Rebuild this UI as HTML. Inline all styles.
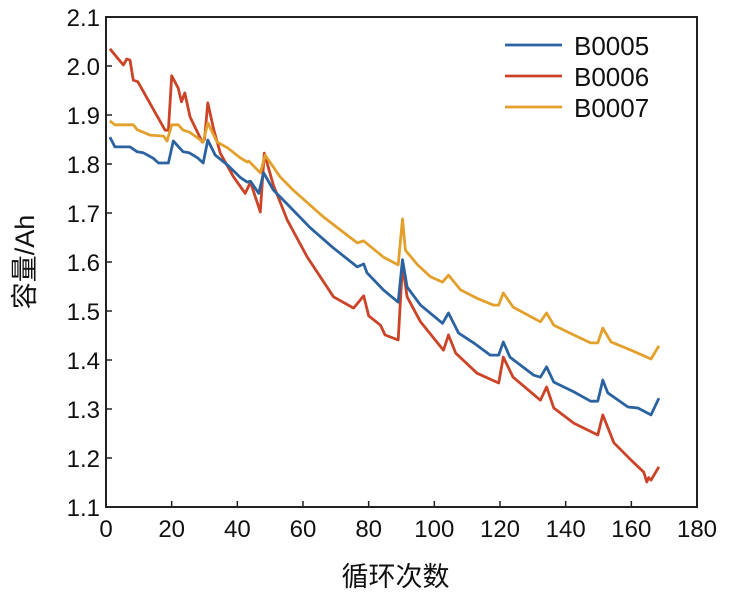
<!DOCTYPE html>
<html><head><meta charset="utf-8">
<style>
html,body{margin:0;padding:0;background:#fff;}
svg{display:block;font-family:"Liberation Sans","Noto Sans CJK SC",sans-serif;}
</style></head>
<body>
<svg id="chart" width="729" height="597"></svg>
<script>
const xTicks=[0,20,40,60,80,100,120,140,160,180];
const yTicks=[1.1,1.2,1.3,1.4,1.5,1.6,1.7,1.8,1.9,2.0,2.1];
const seriesNames=["B0005","B0006","B0007"];
const seriesColors=["#2b62a0","#cc4427","#e3a02c"];
const b5Cycles=[1.2,2.7,7.3,9.5,11.3,14.3,16,19,20.5,23.5,25.3,28,29.6,31,33.3,37,41,43,44,46.5,48,51,57,62,69,76.5,78.5,79.5,84.5,89,90.3,91.7,95.8,102.5,104.3,107.4,112,117,119.6,121,123,130.3,132.3,134.2,136.4,142.5,147.6,149.8,151.3,152.8,159,162,166,168.4];
const b5Values=[1.855,1.835,1.835,1.825,1.823,1.812,1.802,1.802,1.847,1.825,1.823,1.812,1.802,1.849,1.818,1.798,1.772,1.763,1.765,1.74,1.782,1.747,1.706,1.671,1.63,1.59,1.596,1.578,1.543,1.518,1.605,1.549,1.512,1.475,1.496,1.455,1.435,1.41,1.41,1.437,1.406,1.369,1.365,1.386,1.355,1.335,1.316,1.316,1.359,1.333,1.304,1.302,1.288,1.322];
const b6Cycles=[1.2,3.3,5.3,6.3,7.3,8.3,9.7,18,19,20,22,23,24,25.6,29.3,30,31,32.7,34.8,38.8,42.4,44,47,48.2,51,55.2,61.3,69.3,75.4,78.5,80,83.6,85,89,90.3,91.7,95.8,102.8,104.3,106.5,113,119.6,121,124,132.3,134.2,136.4,142.5,149.8,151.3,154.7,159.9,163.8,164.7,165.3,166,168.4];
const b6Values=[2.035,2.018,2.002,2.014,2.012,1.971,1.968,1.869,1.869,1.98,1.955,1.927,1.945,1.896,1.845,1.85,1.925,1.873,1.822,1.774,1.74,1.763,1.702,1.822,1.757,1.686,1.61,1.529,1.506,1.531,1.49,1.471,1.451,1.441,1.594,1.529,1.478,1.42,1.451,1.414,1.373,1.353,1.406,1.365,1.318,1.345,1.302,1.271,1.247,1.288,1.231,1.196,1.171,1.151,1.16,1.155,1.182];
const b7Cycles=[1.2,2.7,8.3,9.5,13.4,17.5,18.6,20,22,23.5,25.5,29.6,31,33.8,37,41,43,43.5,47,48.5,53,57,66.2,76.5,78.5,84.5,89,90.3,91.2,94.9,98.8,102.5,104.3,108,113,118,119.6,121,124,132.3,134.2,136.4,142.5,147.6,149.8,151.3,153.8,159.9,166,168.4];
const b7Values=[1.888,1.88,1.88,1.87,1.859,1.857,1.847,1.88,1.88,1.869,1.865,1.845,1.884,1.845,1.833,1.812,1.804,1.806,1.782,1.818,1.774,1.747,1.692,1.639,1.643,1.61,1.594,1.688,1.624,1.594,1.57,1.559,1.573,1.543,1.526,1.512,1.512,1.537,1.508,1.478,1.496,1.471,1.451,1.435,1.435,1.465,1.437,1.42,1.402,1.429];

const NS="http://www.w3.org/2000/svg";
const svg=document.getElementById('chart');
const L=106,R=697,T=17,B=507;
const xMin=0,xMax=180,yMin=1.1,yMax=2.1;
function sx(v){return L+(v-xMin)/(xMax-xMin)*(R-L);}
function sy(v){return B-(v-yMin)/(yMax-yMin)*(B-T);}
function mk(tag,attrs){const e=document.createElementNS(NS,tag);for(const k in attrs)e.setAttribute(k,attrs[k]);svg.appendChild(e);return e;}

const frame=mk('rect',{x:L,y:T,width:R-L,height:B-T,fill:'none',stroke:'#222','stroke-width':2});



xTicks.forEach(v=>{
  const t=mk('line',{x1:sx(v),x2:sx(v),y1:B,y2:B-6,stroke:'#222','stroke-width':1.5});
  
  
  const lb=mk('text',{x:sx(v),y:B+30,'text-anchor':'middle','font-size':24,fill:'#111'});
  lb.textContent=v;
  
  
});
yTicks.forEach(v=>{
  const t=mk('line',{x1:L,x2:L+6,y1:sy(v),y2:sy(v),stroke:'#222','stroke-width':1.5});
  
  
  const lb=mk('text',{x:L-6,y:sy(v)+9,'text-anchor':'end','font-size':24,fill:'#111'});
  lb.textContent=v.toFixed(1);
  
  
});

const xt=mk('text',{x:(L+R)/2-6,y:586,'text-anchor':'middle','font-size':27,fill:'#111'});
xt.textContent='循环次数';


const yt=mk('text',{x:0,y:0,'text-anchor':'middle','font-size':27,fill:'#111',transform:'translate(34,262) rotate(-90)'});
yt.textContent='容量/Ah';



const allC=[b5Cycles,b6Cycles,b7Cycles],allV=[b5Values,b6Values,b7Values];
[1,2,0].forEach(i=>{
  const pts=allC[i].map((c,j)=>sx(c).toFixed(1)+','+sy(allV[i][j]).toFixed(1)).join(' ');
  const p=mk('polyline',{points:pts,fill:'none',stroke:seriesColors[i],'stroke-width':2.8,'stroke-linejoin':'round'});
  
  
});

seriesNames.forEach((n,i)=>{
  const y=45+i*31;
  const ln=mk('line',{x1:505,x2:562,y1:y,y2:y,stroke:seriesColors[i],'stroke-width':2.8});
  
  
  const tx=mk('text',{x:574,y:y+10,'font-size':26,fill:'#111'});
  tx.textContent=n;
  
  
});
</script>
</body></html>
